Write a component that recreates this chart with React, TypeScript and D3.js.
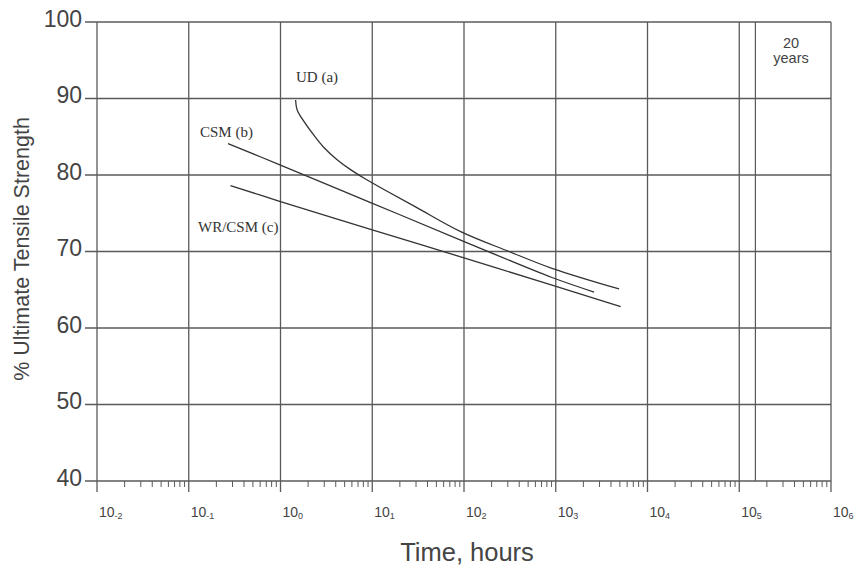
import React from "react";
import * as d3 from "d3";

const W = 857;
const H = 571;

// decades on the x axis (hours), exponent labels
const decadeExps = [-2, -1, 0, 1, 2, 3, 4, 5, 6];
const yTicks = [40, 50, 60, 70, 80, 90, 100];

// 20 years marker (hours)
const twentyYears = 1.5e5;

// series: [hours, % UTS]
const udA: [number, number][] = [
  [1.46, 89.8], [1.52, 88.5], [1.8, 87.0], [2.31, 85.2], [2.97, 83.6], [4.14, 82.0],
  [5.8, 80.7], [8.1, 79.6], [13.4, 78.1], [30, 75.8], [92, 72.6], [309, 70.0],
  [910, 67.8], [4900, 65.1],
];
const csmB: [number, number][] = [
  [0.268, 84.1], [0.955, 81.4], [9.6, 76.4], [96, 71.4], [910, 66.6], [2620, 64.7],
];
const wrCsmC: [number, number][] = [
  [0.285, 78.6], [0.96, 76.6], [9.6, 72.9], [92, 69.3], [910, 65.6], [5100, 62.8],
];

const seriesLabels = ["UD (a)", "CSM (b)", "WR/CSM (c)"];

export default function App() {
  const x = d3.scaleLog().domain([1e-2, 1e6]).range([97, 831]);
  const y = d3.scaleLinear().domain([40, 100]).range([481, 22]);
  const line = d3
    .line<[number, number]>()
    .x((d) => x(d[0]))
    .y((d) => y(d[1]))
    .curve(d3.curveCatmullRom.alpha(0.5));

  const minor: number[] = [];
  for (let e = -2; e < 6; e++) {
    for (let m = 2; m <= 9; m++) minor.push(m * Math.pow(10, e));
  }

  const grid = "#5a5a5a";
  const series = [udA, csmB, wrCsmC];
  const labelPos: [number, number][] = [
    [296, 82],
    [200, 137],
    [198, 232],
  ];

  return (
    <svg width={W} height={H} style={{ position: "absolute", left: 0, top: 0, background: "#fff" }}>
      <rect x={0} y={0} width={W} height={H} fill="#fff" />
      {/* horizontal gridlines */}
      {yTicks.map((t) => (
        <line key={"h" + t} x1={85} x2={x(1e6)} y1={y(t)} y2={y(t)} stroke={grid} strokeWidth={1.3} />
      ))}
      {/* vertical gridlines */}
      {decadeExps.map((e) => (
        <line
          key={"v" + e}
          x1={x(Math.pow(10, e))}
          x2={x(Math.pow(10, e))}
          y1={y(100)}
          y2={492}
          stroke={grid}
          strokeWidth={1.3}
        />
      ))}
      {/* 20 years line */}
      <line x1={x(twentyYears)} x2={x(twentyYears)} y1={y(100)} y2={y(40)} stroke={grid} strokeWidth={1.2} />
      {/* minor ticks */}
      {minor.map((m, i) => (
        <line key={"m" + i} x1={x(m)} x2={x(m)} y1={y(40)} y2={y(40) + 6} stroke={grid} strokeWidth={1} />
      ))}
      {/* y tick labels */}
      {yTicks.map((t) => (
        <text
          key={"yl" + t}
          x={82}
          y={y(t) + 4.5}
          textAnchor="end"
          fontFamily="Liberation Sans, Arial, sans-serif"
          fontSize={23}
          fill="#444"
        >
          {t}
        </text>
      ))}
      {/* x tick labels */}
      {decadeExps.map((e) => (
        <text
          key={"xl" + e}
          x={x(Math.pow(10, e)) + 2}
          y={517}
          fontFamily="Liberation Sans, Arial, sans-serif"
          fontSize={14}
          fill="#444"
        >
          10
          <tspan fontSize={9} dy={2}>
            {e}
          </tspan>
        </text>
      ))}
      {/* axis titles */}
      <text
        x={467}
        y={561}
        textAnchor="middle"
        fontFamily="Liberation Sans, Arial, sans-serif"
        fontSize={25.5}
        fill="#444"
      >
        Time, hours
      </text>
      <text
        transform={`translate(29,249) rotate(-90)`}
        textAnchor="middle"
        fontFamily="Liberation Sans, Arial, sans-serif"
        fontSize={21.5}
        fill="#444"
      >
        % Ultimate Tensile Strength
      </text>
      {/* 20 years label */}
      <text x={791} y={48} textAnchor="middle" fontFamily="Liberation Sans, Arial, sans-serif" fontSize={14.5} fill="#444">
        20
      </text>
      <text x={791} y={63} textAnchor="middle" fontFamily="Liberation Sans, Arial, sans-serif" fontSize={14.5} fill="#444">
        years
      </text>
      {/* curves */}
      {series.map((s, i) => (
        <path key={"s" + i} d={line(s) || ""} fill="none" stroke="#333" strokeWidth={1.3} />
      ))}
      {/* series labels */}
      {seriesLabels.map((l, i) => (
        <text
          key={"lab" + i}
          x={labelPos[i][0]}
          y={labelPos[i][1]}
          fontFamily="Liberation Serif, Times New Roman, serif"
          fontSize={15}
          fill="#333"
        >
          {l}
        </text>
      ))}
    </svg>
  );
}
